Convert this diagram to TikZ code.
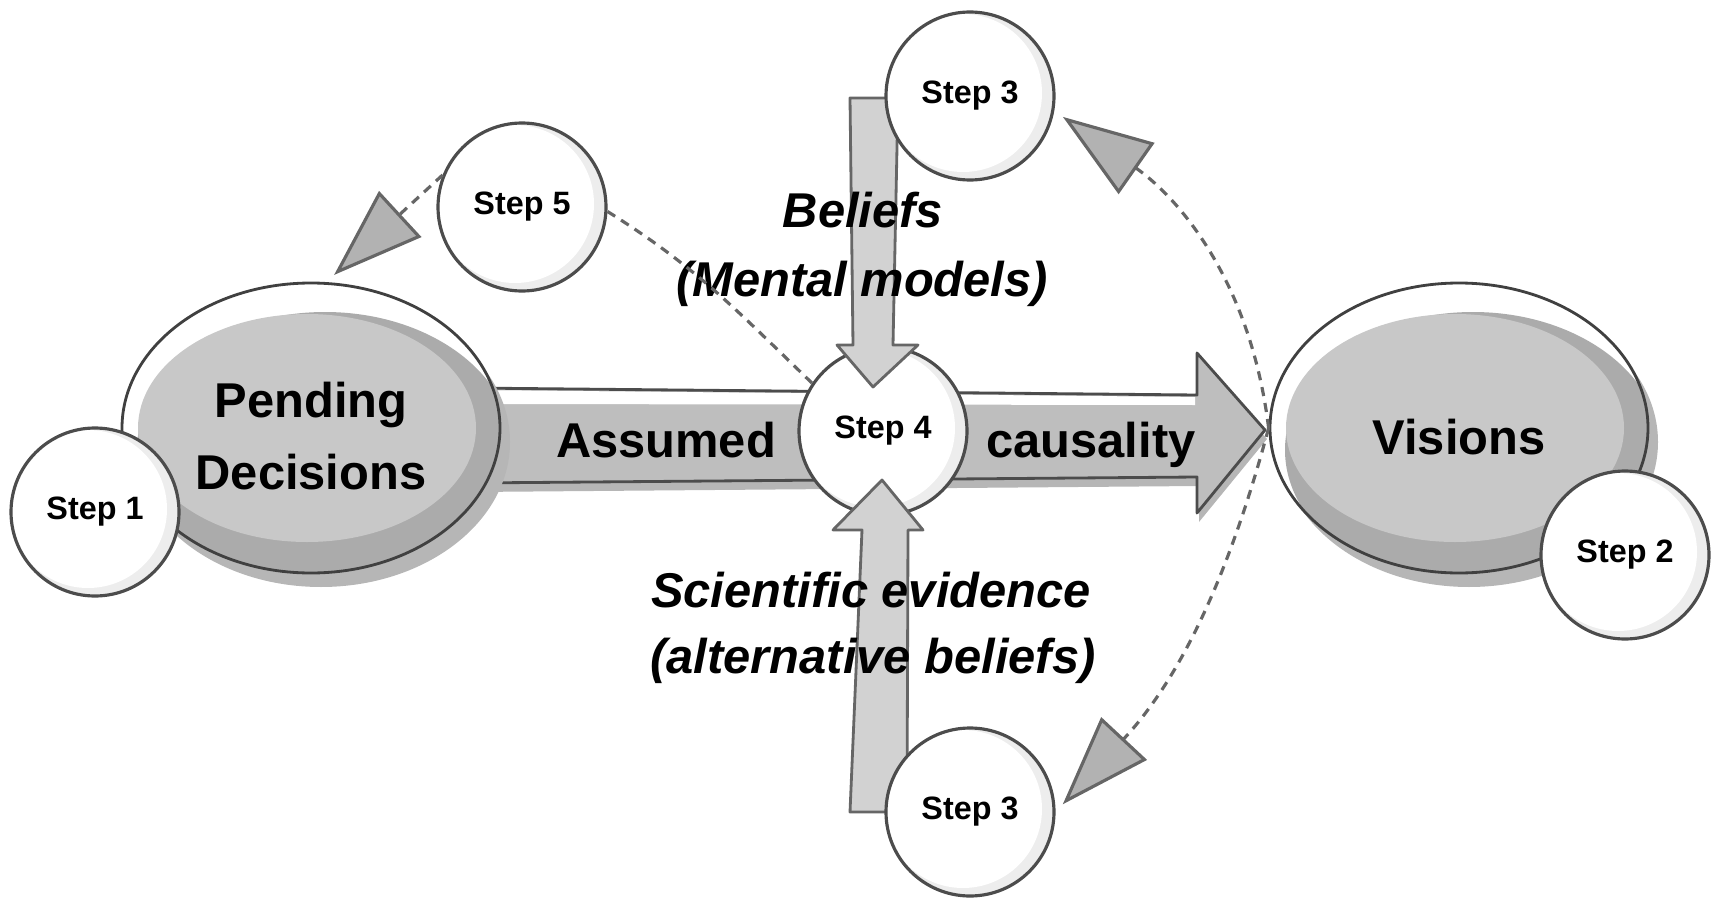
\documentclass[tikz,border=0pt]{standalone}
\usepackage{fontspec}
\setmainfont{Liberation Sans}
\usetikzlibrary{shapes.geometric, arrows.meta, shadows}

\definecolor{blobmid}{HTML}{C8C8C8}
\definecolor{blobdark}{HTML}{ABABAB}
\definecolor{blobshade}{HTML}{B6B6B6}
\definecolor{shaftgray}{HTML}{BEBEBE}
\definecolor{vertgray}{HTML}{D2D2D2}
\definecolor{tipgray}{HTML}{B2B2B2}

\newcommand{\bigfont}{\fontsize{13.9}{20.5}\selectfont\bfseries}
\newcommand{\stepfont}{\fontsize{9.2}{11}\selectfont\bfseries}

\begin{document}
\begin{tikzpicture}[
  blob/.style={ellipse, draw=black!75, line width=0.8pt, fill=white,
    minimum width=3.78cm, minimum height=2.9cm, inner sep=0pt,
    font=\bigfont, align=center,
    drop shadow={shadow xshift=0.1cm, shadow yshift=-0.14cm, fill=blobshade, opacity=1},
    path picture={
      \fill[blobdark] ([shift={(0.14, -0.22)}]path picture bounding box.center) ellipse [x radius=1.88cm, y radius=1.38cm];
      \fill[blobmid] ([shift={(-0.04, 0)}]path picture bounding box.center) ellipse [x radius=1.69cm, y radius=1.14cm];
    }},
  stepnode/.style={circle, draw=black!70, line width=0.9pt, fill=gray!14,
    minimum size=1.68cm, inner sep=0pt, font=\stepfont,
    path picture={
      \fill[white] ([shift={(-0.07, 0.03)}]path picture bounding box.center) circle [radius=0.79cm];
    }},
  bigtext/.style={font=\bigfont, inner sep=0pt, anchor=base},
  slanttext/.style={font=\bigfont\itshape, inner sep=0pt, anchor=base},
  flowarrow/.style={fill=shaftgray, draw=black!70, line width=0.8pt, line join=round},
  beliefarrow/.style={fill=vertgray, draw=black!60, line width=0.8pt, line join=round},
  dashlink/.style={draw=black!60, line width=0.9pt, dash pattern=on 2.6pt off 2pt},
  bigtip/.style={-{Triangle[length=0.9cm, width=0.62cm, fill=tipgray]}, shorten >=3pt}
]
\useasboundingbox (0, 0) rectangle (17.17, 9.17);

\fill[blobshade] (4.72, 5.20) -- (11.99, 5.13) -- (11.99, 5.55) -- (12.67, 4.78) -- (11.99, 3.95) -- (11.99, 4.31) -- (4.72, 4.25) -- cycle;
\fill[shaftgray] (4.70, 5.29) -- (11.97, 5.22) -- (11.97, 5.64) -- (12.65, 4.87) -- (11.97, 4.04) -- (11.97, 4.40) -- (4.70, 4.34) -- cycle;
\fill[white] (4.70, 5.27) -- (11.95, 5.20) -- (11.95, 5.12) -- (4.70, 5.13) -- cycle;
\draw[flowarrow, fill=none] (4.70, 5.29) -- (11.97, 5.22) -- (11.97, 5.64) -- (12.65, 4.87) -- (11.97, 4.04) -- (11.97, 4.40) -- (4.70, 4.34) -- cycle;

\draw (3.11, 4.89) node[blob, text height=35pt] (pending) {Pending\\Decisions};
\draw (14.59, 4.89) node[blob, text height=15.2pt] (visions) {Visions};
\draw (0.95, 4.05) node[stepnode] (s1) {Step 1};
\draw (16.25, 3.62) node[stepnode] (s2) {Step 2};
\draw (8.83, 4.86) node[stepnode] (s4) {Step 4};

\draw[beliefarrow] (8.50, 8.19) -- (8.53, 5.72) -- (8.37, 5.72) -- (8.73, 5.30) -- (9.18, 5.72) -- (8.93, 5.72) -- (8.98, 8.19) -- cycle;
\draw[beliefarrow] (8.50, 1.05) -- (8.62, 3.87) -- (8.33, 3.87) -- (8.82, 4.37) -- (9.23, 3.87) -- (9.08, 3.87) -- (9.07, 1.05) -- cycle;

\draw (9.70, 8.21) node[stepnode] (s3top) {Step 3};
\draw (9.70, 1.05) node[stepnode] (s3bot) {Step 3};
\draw (5.22, 7.10) node[stepnode] (s5) {Step 5};

\draw (6.66, 4.60) node[bigtext] (assumed) {Assumed};
\draw (10.91, 4.60) node[bigtext] (causality) {causality};
\draw (8.63, 6.90) node[slanttext] (beliefs) {Beliefs};
\draw (8.62, 6.21) node[slanttext] (mental) {(Mental models)};
\draw (8.71, 3.10) node[slanttext] (science) {Scientific evidence};
\draw (8.73, 2.44) node[slanttext] (altern) {(alternative beliefs)};

\draw[dashlink] (s4.146) to[out=136, in=-32] (s5.-3);
\draw[dashlink, bigtip] (s5.158) -- (pending.84);
\draw[dashlink, bigtip] (visions.west) to[out=97, in=-35] (s3top.-10);
\draw[dashlink, bigtip] (visions.west) to[out=-105, in=47] (s3bot.east);

\end{tikzpicture}
\end{document}
